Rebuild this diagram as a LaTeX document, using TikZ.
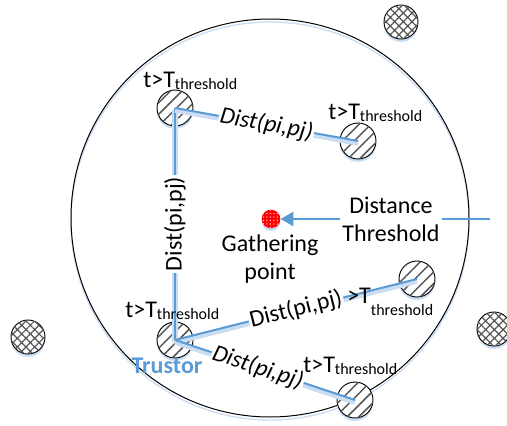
\documentclass[tikz,border=0pt]{standalone}
\usepackage{fontspec}
\setmainfont{Carlito}
\usetikzlibrary{patterns.meta,arrows.meta,shadows}

\definecolor{linkblue}{HTML}{5B9BD5}
\definecolor{glowblue}{HTML}{CADDF2}
\definecolor{hatchgray}{HTML}{555555}

% "t>T" with a lowered "threshold"
\newcommand{\tsub}[1][2pt]{T\raisebox{-#1}{\fontsize{12}{12}\selectfont threshold}}

\begin{document}
\begin{tikzpicture}[x=0.75pt, y=-0.75pt,
  every node/.style={font=\fontsize{18}{21}\selectfont, inner sep=1.5pt},
  peer/.style={circle, draw=black, line width=0.7pt, minimum size=27pt, inner sep=0pt,
    fill=white,
    drop shadow={shadow xshift=0pt, shadow yshift=-2.2pt, fill=glowblue, opacity=1},
    postaction={pattern={Lines[angle=45, distance=6.2pt, line width=1.1pt]}, pattern color=hatchgray}},
  stranger/.style={circle, draw=black, line width=0.7pt, minimum size=25.5pt, inner sep=0pt,
    fill=white,
    drop shadow={shadow xshift=0pt, shadow yshift=-2.2pt, fill=glowblue, opacity=1},
    postaction={pattern={Hatch[angle=45, distance=4.6pt, line width=0.9pt]}, pattern color=hatchgray}},
  link/.style={draw=linkblue, line width=1.5pt,
    preaction={draw=glowblue, line width=4pt, transform canvas={yshift=-1.6pt}}},
  onlink/.style={fill=white, inner sep=1pt},
]
\useasboundingbox (0,0) rectangle (507,425);

% communication range
\draw[glowblue, line width=1pt] (270,221) circle (199);
\draw[black, line width=0.75pt] (270,218) circle (199);

% nodes outside the range
\node[stranger] (s1) at (401,22) {};
\node[stranger] (s2) at (28,337) {};
\node[stranger] (s3) at (494,329) {};

% trusted peers and trustor
\node[peer] (A) at (175,108) {};
\node[peer] (B) at (358,141) {};
\node[peer] (C) at (417,279) {};
\node[peer] (D) at (355,400) {};
\node[peer] (T) at (175,340) {};

% gathering point
\node[circle, minimum size=14pt, inner sep=0pt, fill=red,
  drop shadow={shadow xshift=0pt, shadow yshift=-2pt, fill=glowblue, opacity=1},
  postaction={pattern={Dots[radius=0.55pt, distance=2.6pt]}, pattern color=white!80!red}]
  (gp) at (271,219) {};
\node[align=center] (gplabel) at (270,259) {Gathering\\point};

% distance links
\draw[link] (T.center) -- (A.center)
  node[onlink, midway, rotate=90] {Dist(pi,pj)};
\draw[link] (A.center) -- (B.center)
  node[onlink, midway, sloped] {\itshape Dist(pi,pj)};
\draw[link] (T.center) -- (C.center)
  node[onlink, pos=0.5, sloped] {Dist(pi,pj)};
\draw[link] (T.center) -- (D.center)
  node[onlink, pos=0.46, sloped] {\itshape Dist(pi,pj)};

% threshold labels
\node[anchor=base west, inner sep=0pt] (lA) at (143,87) {t>\tsub};
\node[anchor=base west, inner sep=0pt] (lB) at (328,119) {t>\tsub};
\node[anchor=base west, inner sep=0pt] (lT) at (125,317) {t>\tsub};
\node[anchor=base west, inner sep=0pt] (lD) at (303,372) {t>\tsub};
\node[anchor=base west, inner sep=0pt] (lC) at (347,303) {>\tsub[9pt]};

% trustor label
\node[font=\fontsize{18}{21}\selectfont\bfseries, text=linkblue] (trustor) at (167,366) {Trustor};

% distance threshold
\node[align=center, inner sep=2pt] (dt) at (391,219) {Distance\\Threshold};
\coordinate (dtend) at (490,219);
\draw[linkblue, line width=1.5pt] (dtend) -- (dt.east);
\draw[linkblue, line width=1.5pt, -{Triangle[length=9.5pt, width=10.5pt]}] (dt.west) -- (gp.east);
\end{tikzpicture}
\end{document}
